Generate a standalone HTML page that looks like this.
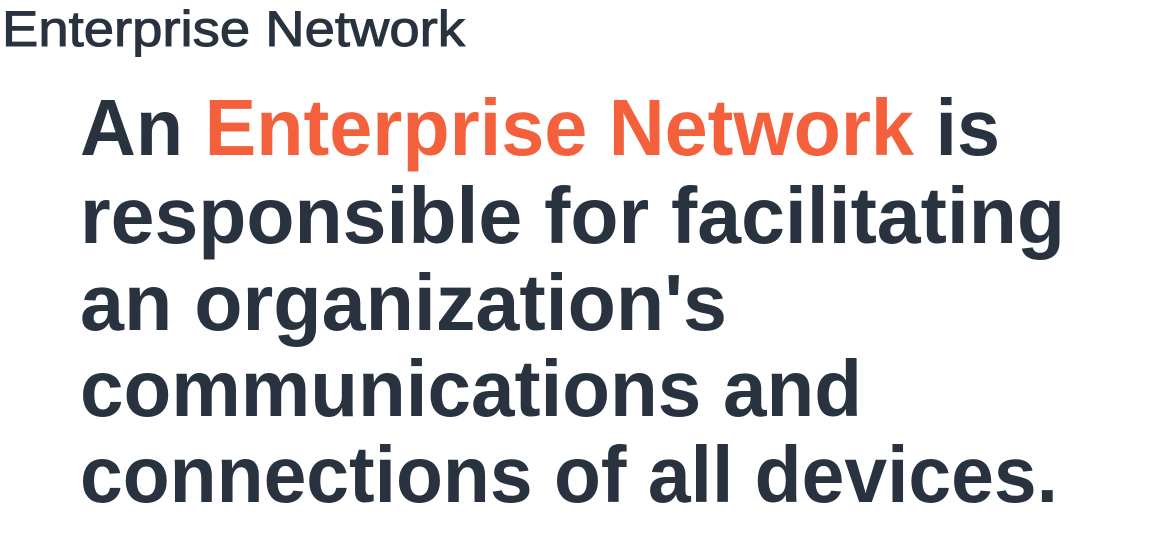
<!DOCTYPE html>
<html><head><meta charset="utf-8"><style>
html,body{margin:0;padding:0;background:#fff;width:1164px;height:554px;overflow:hidden}
svg text{font-family:"Liberation Sans","DejaVu Sans",sans-serif;fill:#29333f}
</style></head><body>
<svg width="1164" height="554" viewBox="0 0 1164 554">
<text x="2" y="46" font-size="50" textLength="463" lengthAdjust="spacingAndGlyphs" stroke="#29333f" stroke-width="1">Enterprise Network</text>
<g font-weight="bold" font-size="80">
<text x="80" y="155" textLength="920" lengthAdjust="spacingAndGlyphs">An <tspan fill="#f4603c">Enterprise Network</tspan> is</text>
<text x="80" y="243" textLength="985" lengthAdjust="spacingAndGlyphs">responsible for facilitating</text>
<text x="80" y="330" textLength="647" lengthAdjust="spacingAndGlyphs">an organization's</text>
<text x="80" y="416" textLength="782" lengthAdjust="spacingAndGlyphs">communications and</text>
<text x="80" y="502" textLength="978" lengthAdjust="spacingAndGlyphs">connections of all devices.</text>
</g>
</svg>
</body></html>
